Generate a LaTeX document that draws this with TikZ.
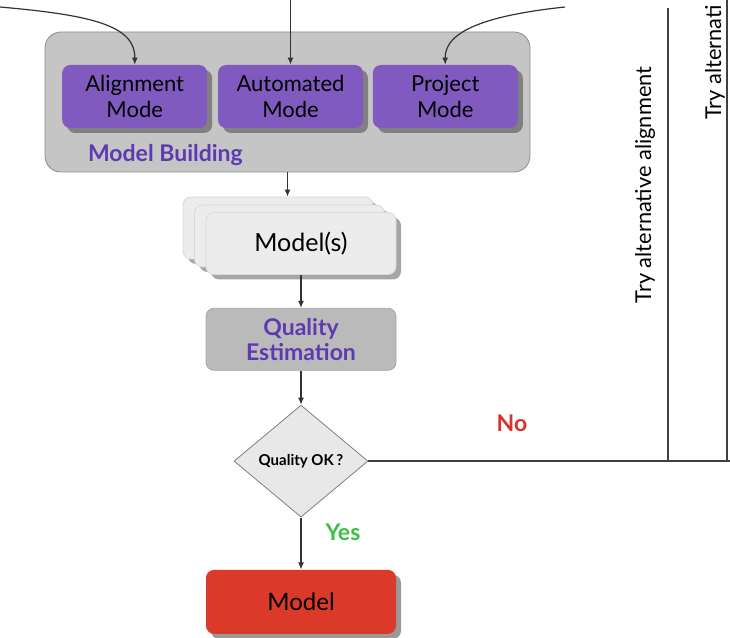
\documentclass[tikz,border=0pt]{standalone}
\usepackage{fontspec}
\setmainfont{Lato}
\usetikzlibrary{arrows.meta, positioning, shapes.geometric, shadows}
\definecolor{modepurple}{RGB}{128,90,190}
\definecolor{textpurple}{RGB}{92,58,178}
\definecolor{groupgray}{RGB}{197,197,197}
\definecolor{stackgray}{RGB}{236,236,236}
\definecolor{qegray}{RGB}{186,186,186}
\definecolor{okgray}{RGB}{232,232,232}
\definecolor{modelred}{RGB}{219,58,42}
\definecolor{nored}{RGB}{214,52,40}
\definecolor{yesgreen}{RGB}{62,190,72}

\begin{document}
\begin{tikzpicture}[
    x=0.5pt, y=0.5pt,
    >={Latex[length=3.5pt,width=3pt]},
    every node/.append style={font=\fontsize{11}{13}\selectfont},
    box/.style={rectangle, rounded corners=4pt, align=center, inner sep=0pt},
    group/.style={box, rounded corners=8pt, draw=black!45, fill=groupgray,
                  minimum width=242.5pt, minimum height=70pt},
    mbox/.style={box, fill=modepurple, minimum width=72.5pt, minimum height=31.5pt,
                 drop shadow={shadow xshift=2.5pt, shadow yshift=-2.5pt, fill=black!50, opacity=1}},
    sbox/.style={box, draw=black!15, fill=stackgray, minimum width=95pt, minimum height=31pt,
                 drop shadow={shadow xshift=2.5pt, shadow yshift=-2.5pt, fill=black!35, opacity=1}},
    qbox/.style={box, draw=black!35, fill=qegray, minimum width=95pt, minimum height=31pt,
                 text=textpurple, font=\fontsize{11.5}{12.5}\selectfont\bfseries},
    decision/.style={diamond, draw=black!50, fill=okgray, inner sep=0pt, aspect=1.2,
                     minimum width=67pt, minimum height=56pt,
                     font=\fontsize{7.5}{9}\selectfont\bfseries},
    rbox/.style={box, fill=modelred, minimum width=95pt, minimum height=32pt,
                 font=\fontsize{12}{14}\selectfont,
                 drop shadow={shadow xshift=2.5pt, shadow yshift=-2.5pt, fill=black!40, opacity=1}},
    flow/.style={->, black!80, semithick},
    loopline/.style={black!75, thick},
    side/.style={rotate=90, font=\fontsize{10.9}{12}\selectfont},
    answer/.style={font=\fontsize{11.5}{13}\selectfont\bfseries},
  ]
  \useasboundingbox (0,0) rectangle (730,638);
  \clip (0,0) rectangle (730,638);

  \node[group] (build) at (287.5,536) {};
  \node[mbox] (auto) at (290.5,541.5) {Automated\\Mode};
  \node[mbox, left=5pt of auto] (align) {Alignment\\Mode};
  \node[mbox, right=4.5pt of auto] (proj) {Project\\Mode};
  \node[anchor=base west, text=textpurple, font=\fontsize{11.5}{13}\selectfont\bfseries]
    (buildlbl) at (81,476) {Model Building};

  \node[sbox] (stackA) at (278,410) {};
  \node[sbox] (stackB) at (289.5,402) {};
  \node[sbox, font=\fontsize{12.5}{14}\selectfont] (models) at (301,394.5) {Model(s)};

  \node[qbox, below=16.5pt of models] (qe) {Quality\\Estimation};
  \node[decision, below=17pt of qe] (ok) {Quality OK\,?};
  \node[rbox, below=26pt of ok] (final) {Model};

  \node[answer, text=nored] (no) at (512,215) {No};
  \node[answer, text=yesgreen] (yes) at (343,106) {Yes};

  \node[side] (tryA) at (645,453) {Try alternative alignment};
  \node[side, anchor=east] (tryB) at (715,640) {Try alternati};

  \coordinate (inL) at (0,631);
  \coordinate (inM) at (290.5,640);
  \coordinate (inR) at (565,631);
  \coordinate (backA) at (668,630);
  \coordinate (backB) at (727,640);
  \coordinate (out) at (740,0);

  \draw[flow] (inL) .. controls (90,623) and (135.5,613) .. (align.north);
  \draw[flow] (inM) -- (auto.north);
  \draw[flow] (inR) .. controls (490,623) and (444.5,608) .. (proj.north);
  \draw[flow] (build.south) -- (build.south |- stackA.north);
  \draw[flow] (models) -- (qe);
  \draw[flow] (qe) -- (ok);
  \draw[flow] (ok) -- (final);
  \draw[loopline] (ok.east) -- (ok.east -| out);
  \draw[loopline] (ok.east -| backA) -- (backA);
  \draw[loopline] (ok.east -| backB) -- (backB);
\end{tikzpicture}
\end{document}
